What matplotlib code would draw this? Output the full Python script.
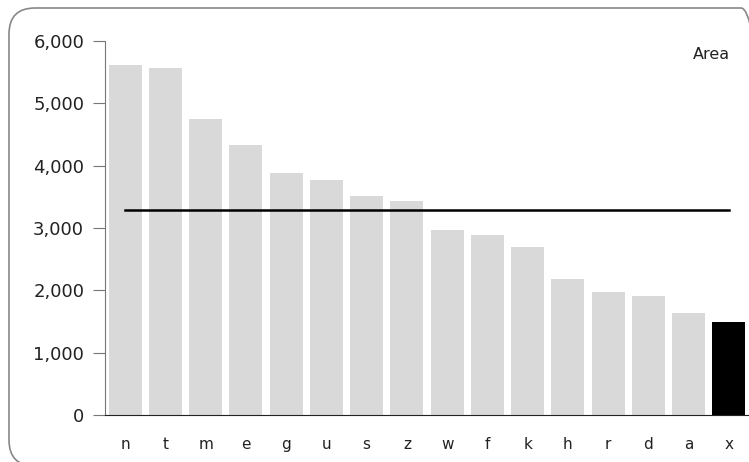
import numpy as np
import matplotlib.pyplot as plt
from matplotlib.patches import FancyBboxPatch
from matplotlib.transforms import IdentityTransform

# donnees
labels = ["n", "t", "m", "e", "g", "u", "s", "z", "w", "f", "k", "h", "r", "d", "a", "x"]
area = [5610, 5567, 4749, 4332, 3883, 3770, 3514, 3433, 2968, 2888, 2695, 2182, 1973, 1909, 1636, 1492]
highlight = "x"

colors = ["black" if l == highlight else "#d9d9d9" for l in labels]
xs = np.arange(len(labels))
mean = np.mean(area)

W, H = 749., 462.
fig = plt.figure(figsize=(W/100, H/100), dpi=100)

# cadre arrondi (en pixels)
box = FancyBboxPatch((9, -4), 758, 458,
                     boxstyle="round,pad=0,rounding_size=26",
                     transform=IdentityTransform(), fc="none", ec="#888888", lw=1.2)
fig.patches.append(box)

ax = fig.add_axes([105/W, 47/H, (W - 105)/W, (415 - 41)/H])
ax.bar(xs, area, width=0.82, color=colors)
ax.plot([xs[0], xs[-1]], [mean, mean], color="black", lw=1.8)

ax.set_xlim(-0.5, len(labels) - 0.5)
ax.set_ylim(0, 6000)
ax.set_yticks(range(0, 6001, 1000))
ax.set_yticklabels(["{:,}".format(v) for v in range(0, 6001, 1000)])
ax.set_xticks(xs)
ax.set_xticklabels(labels)

ax.spines["top"].set_visible(False)
ax.spines["right"].set_visible(False)
ax.spines["left"].set_color("#777777")
ax.spines["bottom"].set_color("#222222")
ax.tick_params(axis="y", length=9, color="#777777", labelsize=13, pad=6, labelcolor="#222222")
ax.tick_params(axis="x", length=0, labelsize=11, pad=16, labelcolor="#222222")

ax.text(0.97, 0.985, "Area", transform=ax.transAxes, ha="right", va="top",
        fontsize=11.5, color="#222222")

fig.savefig("out.png", dpi=100)
